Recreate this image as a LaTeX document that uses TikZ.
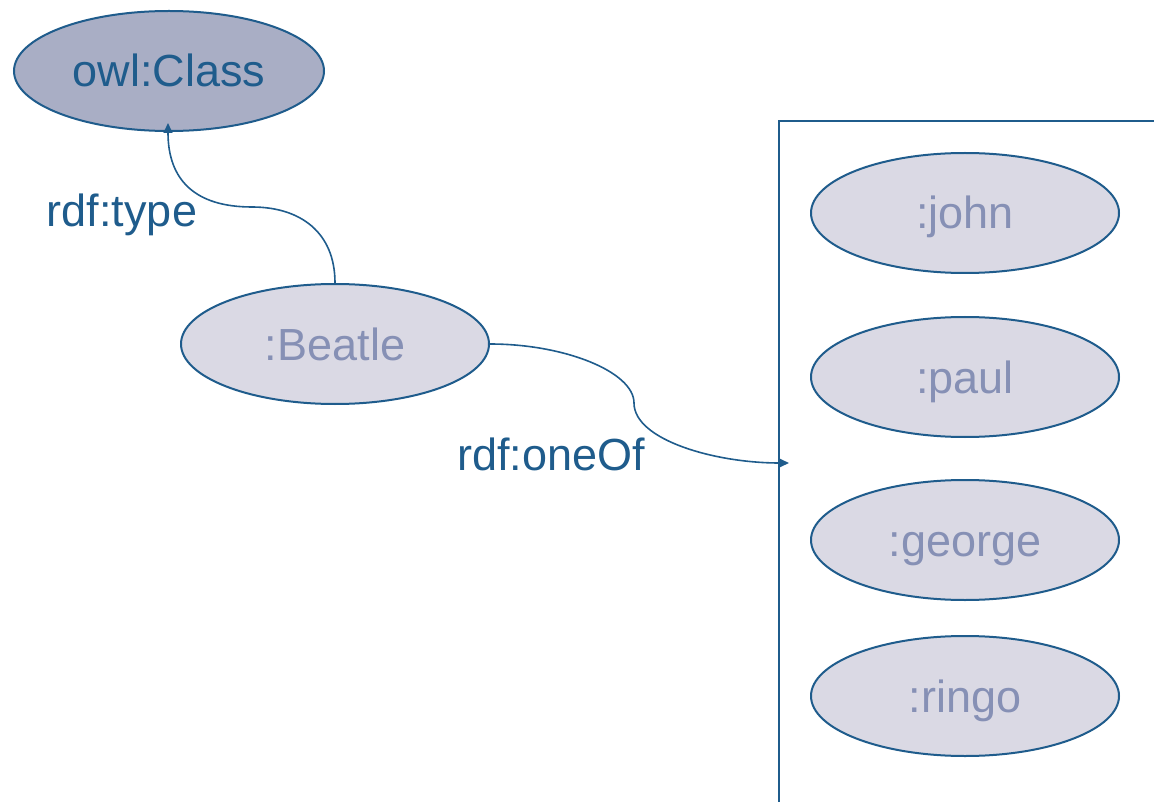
\documentclass[tikz,border=0pt]{standalone}
\usepackage{fontspec}
\setmainfont{Liberation Sans}
\usetikzlibrary{shapes.geometric,arrows.meta}
\definecolor{edgeblue}{RGB}{31,92,140}
\definecolor{classfill}{RGB}{169,174,197}
\definecolor{indfill}{RGB}{218,217,228}
\definecolor{indtext}{RGB}{134,144,181}
\tikzset{
  txt/.style={font=\fontsize{45}{50}\selectfont, text height=32pt, text depth=0pt, inner sep=0pt},
  classnode/.style={txt, ellipse, draw=edgeblue, line width=2pt, fill=classfill, text=edgeblue,
                    minimum width=310pt, minimum height=120pt},
  indnode/.style={txt, ellipse, draw=edgeblue, line width=2pt, fill=indfill, text=indtext,
                  minimum width=308pt, minimum height=120pt},
  proplabel/.style={txt, text=edgeblue},
  link/.style={draw=edgeblue, line width=1.6pt, -{Triangle[length=10pt,width=9pt]}},
}
\begin{document}
\begin{tikzpicture}[x=1pt,y=-1pt]
\useasboundingbox (0,0) rectangle (1154,802);

% enumeration container
\draw[edgeblue, line width=2pt] (1156,121) -- (779,121) -- (779,804);

% nodes
\node[classnode] (cls) at (169,71) {owl:Class};
\node[indnode] (beatle) at (335,344) {:Beatle};
\node[indnode] (john) at (965,213) {:john};
\node[indnode] (paul) at (965,377) {:paul};
\node[indnode] (george) at (965,540) {:george};
\node[indnode] (ringo) at (965,696) {:ringo};

% property labels
\node[proplabel] (ltype) at (122,211) {rdf:type};
\node[proplabel] (loneof) at (551,454) {rdf:oneOf};

% target point of the list arrow
\coordinate (listin) at (789,463);
\coordinate (clsin) at (168,123);

% edges
\draw[link] (beatle.north) .. controls (335,232) and (300,207) .. (252,207)
  .. controls (195,207) and (168,180) .. (clsin);
\draw[link] (beatle.east) .. controls (565,344) and (634,372) .. (634,403)
  .. controls (634,440) and (715,463) .. (listin);
\end{tikzpicture}
\end{document}
